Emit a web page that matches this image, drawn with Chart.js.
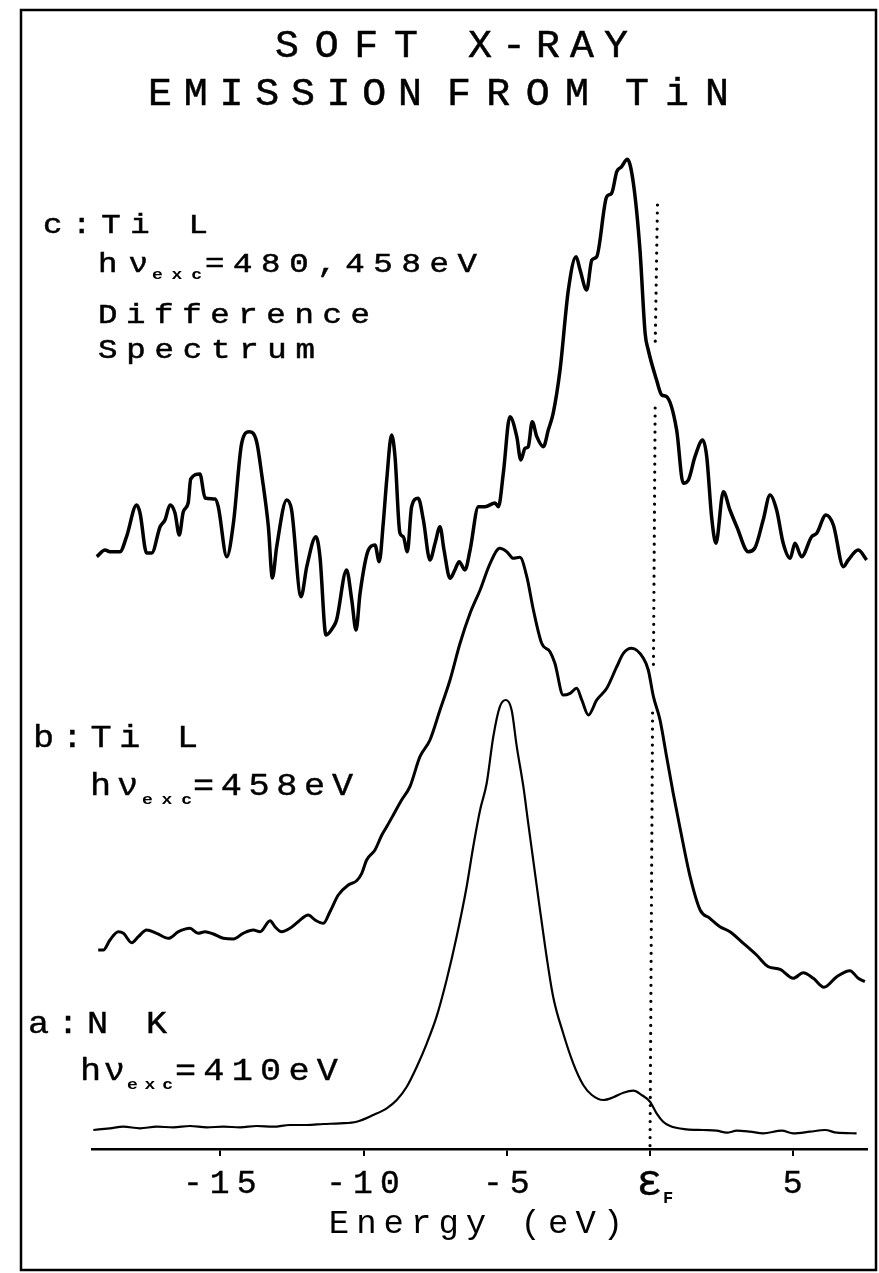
<!DOCTYPE html>
<html>
<head>
<meta charset="utf-8">
<title>Soft X-ray emission from TiN</title>
<script src="https://cdn.jsdelivr.net/npm/chart.js@4.4.0/dist/chart.umd.min.js"></script>
<style>
  html, body { margin: 0; padding: 0; background: #fff; }
  canvas { display: block; }
</style>
</head>
<body>
<canvas id="spectra" width="879" height="1273"></canvas>
<script>
// energies in eV relative to the Fermi level, intensities in arbitrary units (curves offset)

// a: N K, hv_exc = 410 eV
const nkEnergy = [-19.43, -18.85, -18.38, -17.80, -17.22, -16.64, -16.06, -15.47, -14.89, -14.31,
  -13.73, -13.15, -12.57, -11.98, -11.40, -10.82, -10.24, -9.66, -9.19, -8.84, -8.49, -8.14,
  -7.79, -7.45, -7.10, -6.75, -6.40, -6.17, -5.93, -5.70, -5.47, -5.24, -5.03, -4.83, -4.65,
  -4.42, -4.25, -3.95, -3.66, -3.38, -3.03, -2.68, -2.33, -2.03, -1.63, -1.28, -0.93, -0.58,
  -0.29, 0.00, 0.23, 0.46, 0.70, 1.28, 1.86, 2.33, 2.68, 3.03, 3.49, 3.95, 4.60, 5.00, 5.58,
  6.11, 6.52, 7.21];
const nkIntensity = [1.9, 2.07, 2.23, 2.07, 2.23, 2.17, 2.3, 2.17, 2.23, 2.17,
  2.3, 2.23, 2.4, 2.4, 2.5, 2.57, 2.73, 3.4, 4.07, 4.9, 6.23, 8.23,
  10.57, 13.23, 16.9, 21.23, 26.23, 30.23, 33.9, 36.57, 41.23, 44.23, 44.9, 43.9, 40.23,
  36.23, 32.57, 26.23, 20.23, 15.23, 11.57, 8.57, 6.4, 5.4, 4.9, 5.17, 5.63, 5.83,
  5.4, 4.73, 3.57, 2.73, 2.3, 1.97, 1.9, 1.83, 1.63, 1.83, 1.73, 1.57, 1.83, 1.57, 1.73,
  1.9, 1.63, 1.57];

// b: Ti L, hv_exc = 458 eV
const tiLEnergy = [-19.26, -19.08, -18.85, -18.56, -18.38, -18.09, -17.86, -17.57, -17.22, -16.81,
  -16.46, -16.06, -15.77, -15.53, -15.24, -14.89, -14.54, -14.20, -13.85, -13.61, -13.26, -13.09,
  -12.86, -12.57, -12.28, -11.93, -11.69, -11.40, -11.17, -10.88, -10.53, -10.24, -10.06, -9.89,
  -9.60, -9.36, -9.19, -8.96, -8.67, -8.38, -8.03, -7.68, -7.33, -6.98, -6.63, -6.28, -5.93,
  -5.58, -5.24, -5.00, -4.77, -4.54, -4.30, -4.07, -3.78, -3.49, -3.32, -3.03, -2.79, -2.56,
  -2.38, -2.15, -1.86, -1.51, -1.16, -0.93, -0.64, -0.23, -0.06, 0.12, 0.35, 0.58, 0.81, 1.05,
  1.40, 1.75, 2.09, 2.44, 2.79, 3.26, 3.72, 4.13, 4.54, 5.00, 5.35, 5.70, 6.07, 6.52, 6.98,
  7.27, 7.50];
const tiLIntensity = [19.9, 19.9, 20.9, 21.73, 21.57, 20.63, 21.23, 21.9, 21.57, 21.07,
  21.73, 22.07, 21.57, 21.73, 21.5, 21.07, 21.0, 21.57, 21.9, 21.73, 22.83, 22.23,
  21.73, 22.07, 22.73, 23.4, 22.9, 22.57, 23.73, 25.4, 26.4, 26.83, 27.57, 28.9,
  29.9, 31.4, 32.23, 33.4, 34.9, 36.23, 39.23, 40.9, 43.9, 46.9, 50.57, 53.57, 55.9,
  58.57, 60.07, 59.73, 59.07, 59.17, 57.23, 53.9, 50.57, 49.73, 48.57, 45.4, 45.57, 46.07,
  44.9, 43.4, 44.9, 46.07, 48.23, 49.57, 50.07, 49.07, 47.9, 45.23, 42.9, 39.23, 35.57, 32.07,
  27.23, 23.9, 23.07, 22.23, 21.73, 20.57, 19.4, 18.23, 17.97, 17.07, 17.63, 17.07, 16.17, 17.23, 17.83,
  17.07, 16.73];

// c: Ti L, hv_exc = 480, 458 eV difference spectrum
const diffEnergy = [-19.31, -19.02, -18.85, -18.50, -18.27, -17.92, -17.80, -17.57, -17.39, -17.10,
  -16.93, -16.75, -16.58, -16.43, -16.29, -16.12, -16.03, -15.71, -15.53, -15.18, -15.07, -14.77,
  -14.54, -14.25, -13.99, -13.73, -13.55, -13.32, -13.18, -13.03, -12.68, -12.51, -12.18, -11.98,
  -11.66, -11.52, -11.31, -11.05, -10.94, -10.59, -10.41, -10.26, -10.12, -9.83, -9.60, -9.45,
  -9.31, -9.19, -9.02, -8.90, -8.73, -8.61, -8.47, -8.32, -8.09, -7.91, -7.68, -7.50, -7.33,
  -7.19, -6.98, -6.81, -6.66, -6.46, -6.28, -5.99, -5.76, -5.41, -5.29, -5.12, -4.89, -4.65,
  -4.51, -4.36, -4.25, -4.11, -3.95, -3.72, -3.55, -3.38, -3.14, -2.85, -2.58, -2.44, -2.21,
  -2.03, -1.86, -1.51, -1.34, -1.16, -0.99, -0.79, -0.58, -0.35, -0.17, -0.06, 0.23, 0.41, 0.58,
  0.93, 1.16, 1.34, 1.57, 1.84, 1.98, 2.15, 2.30, 2.56, 2.79, 3.03, 3.43, 3.66, 3.95, 4.19,
  4.42, 4.65, 4.89, 5.06, 5.29, 5.64, 5.82, 6.14, 6.40, 6.75, 6.92, 7.27, 7.56];
const diffIntensity = [59.23, 59.9, 59.73, 59.73, 61.23, 64.4, 63.6, 59.6, 59.6, 62.23,
  62.9, 64.4, 63.6, 61.4, 63.73, 64.6, 67.0, 67.5, 65.1, 65.0, 64.23, 59.23,
  62.6, 70.6, 71.73, 70.73, 67.4, 62.23, 57.1, 60.23, 64.9, 63.9, 55.23, 58.23,
  61.23, 59.23, 51.4, 52.23, 52.9, 57.9, 54.9, 51.9, 55.57, 59.9, 60.4, 58.73,
  62.6, 66.9, 71.4, 69.23, 61.6, 61.23, 59.73, 64.23, 65.07, 62.9, 58.9, 60.6, 62.23,
  59.9, 57.07, 57.9, 58.73, 57.9, 59.9, 64.23, 64.23, 64.6, 64.23, 67.57, 73.23, 71.23,
  68.9, 70.07, 70.23, 72.73, 71.23, 70.23, 71.9, 73.57, 77.9, 85.9, 89.23, 87.9, 85.9,
  88.9, 89.23, 95.23, 95.57, 97.73, 98.23, 98.97, 96.57, 89.9, 81.57, 79.9, 76.9, 75.4, 75.23,
  71.9, 66.57, 66.9, 69.23, 70.9, 69.23, 63.23, 60.57, 65.73, 63.9, 62.23, 59.73, 60.1, 62.9, 65.4,
  63.9, 60.57, 59.07, 60.57, 59.23, 61.23, 61.57, 63.4, 62.4, 58.23, 58.9, 59.9, 58.9];

// dotted Fermi level marker (null = gap where it passes behind a curve)
const fermiEnergy = [0.26, 0.18, 0.18, 0.18, 0.12, 0.11, 0.09, 0.0];
const fermiLevel = [94.4, 80.1, null, 74.1, 48.4, null, 43.6, 0.0];

const tickValues = [-15, -10, -5, 0, 5];

const FONT = "'Liberation Mono', 'Courier New', monospace";

function points(xs, ys) {
    return xs.map((x, i) => ({ x: x, y: ys[i] }));
}

// draws text spanning x1..x2, glyphs widened by sx and a bit heavier (old typewriter look)
function fitText(ctx, text, x1, x2, y, sx, weight) {
    sx = sx || 1;
    ctx.save();
    ctx.translate(x1, y);
    ctx.scale(sx, 1);
    ctx.letterSpacing = '0px';
    const w = ctx.measureText(text).width;
    const n = Array.from(text).length;
    const sp = n > 1 ? ((x2 - x1) / sx - w) / (n - 1) : 0;
    ctx.letterSpacing = sp.toFixed(2) + 'px';
    ctx.textAlign = 'left';
    ctx.textBaseline = 'alphabetic';
    ctx.fillText(text, 0, 0);
    if (weight) {
        ctx.lineWidth = weight;
        ctx.strokeText(text, 0, 0);
    }
    ctx.restore();
}

function excLabel(ctx, font, sx, wt, hv, sub, rest) {
    ctx.font = font;
    fitText(ctx, 'hν', hv[0], hv[1], hv[2], sx, wt);
    ctx.font = 'bold 15px ' + FONT;
    fitText(ctx, 'exc', sub[0], sub[1], sub[2], 1.2, 0);
    ctx.font = font;
    fitText(ctx, rest[0], rest[1], rest[2], rest[3], sx, wt);
}

const paper = {
    id: 'paper',
    beforeDraw(chart) {
        const c = chart.ctx;
        c.save();
        c.fillStyle = '#fff';
        c.fillRect(0, 0, chart.width, chart.height);
        c.strokeStyle = '#000';
        c.lineWidth = 2.5;
        c.strokeRect(21, 10, 855, 1260);
        c.restore();
        c.letterSpacing = '7px'; // spacing for the axis texts
    },
    afterDraw(chart) {
        const c = chart.ctx;
        c.save();
        c.fillStyle = '#000';
        c.strokeStyle = '#000';

        // title, word by word
        c.font = '38px ' + FONT;
        fitText(c, 'SOFT', 275, 418, 57, 1.05, 0.5);
        fitText(c, 'X-RAY', 468, 628, 57, 1.05, 0.5);
        fitText(c, 'EMISSION', 148, 422, 105, 1.05, 0.5);
        fitText(c, 'FROM', 447, 589, 105, 1.05, 0.5);
        fitText(c, 'TiN', 625, 729, 105, 1.05, 0.5);

        // c label
        const cFont = '27px ' + FONT;
        const cw = 0.5;
        c.font = cFont;
        fitText(c, 'c:Ti L', 43, 208, 233, 1.2, cw);
        excLabel(c, cFont, 1.2, cw, [98, 148, 272], [152, 202, 279], ['=480,458eV', 205, 477, 272]);
        c.font = cFont;
        fitText(c, 'Difference', 98, 370, 323, 1.2, cw);
        fitText(c, 'Spectrum', 98, 315, 358, 1.2, cw);

        // b label
        const bFont = '32px ' + FONT;
        const bw = 0.4;
        c.font = bFont;
        fitText(c, 'b:Ti L', 33, 198, 747, 1.1, bw);
        excLabel(c, bFont, 1.1, bw, [90, 138, 795], [142, 192, 804], ['=458eV', 193, 353, 795]);

        // a label
        c.font = bFont;
        fitText(c, 'a:N K', 28, 167, 1033, 1.1, bw);
        excLabel(c, bFont, 1.1, bw, [80, 125, 1080], [127, 173, 1089], ['=410eV', 175, 338, 1080]);

        // subscript F of the Fermi level tick
        const x0 = chart.scales.x.getPixelForValue(0);
        c.font = 'bold 17px ' + FONT;
        c.textAlign = 'left';
        c.letterSpacing = '0px';
        c.fillText('F', x0 + 13, 1203);
        c.restore();
    }
};

const tickFont = { family: FONT, size: 33, lineHeight: 1.2 };
const epsFont = { family: FONT, size: 44, lineHeight: 33 * 1.2 / 44 };

new Chart(document.getElementById('spectra'), {
    type: 'line',
    data: {
        datasets: [
            {
                label: 'a: N K',
                data: points(nkEnergy, nkIntensity),
                borderColor: '#000',
                borderWidth: 2.2
            },
            {
                label: 'b: Ti L',
                data: points(tiLEnergy, tiLIntensity),
                borderColor: '#000',
                borderWidth: 3
            },
            {
                label: 'c: Ti L difference',
                data: points(diffEnergy, diffIntensity),
                borderColor: '#000',
                borderWidth: 3.5
            },
            {
                label: 'Fermi level',
                data: points(fermiEnergy, fermiLevel),
                borderColor: '#000',
                borderWidth: 3.2,
                borderDash: [0.01, 8],
                borderCapStyle: 'round',
                cubicInterpolationMode: 'default',
                tension: 0
            }
        ]
    },
    options: {
        responsive: false,
        animation: false,
        layout: { padding: { top: 149, left: 92, right: 12, bottom: 0 } },
        elements: {
            point: { radius: 0 },
            line: { cubicInterpolationMode: 'monotone', borderJoinStyle: 'round' }
        },
        datasets: { line: { clip: false } },
        plugins: {
            legend: { display: false },
            tooltip: { enabled: false }
        },
        scales: {
            x: {
                type: 'linear',
                min: (92 - 650) / 28.65,
                max: (867 - 650) / 28.65,
                afterFit: (scale) => { scale.height = 124; },
                afterBuildTicks: (scale) => { scale.ticks = tickValues.map(v => ({ value: v })); },
                border: { display: true, color: '#000', width: 2.5 },
                grid: { display: true, drawOnChartArea: false, drawTicks: true, tickLength: 7, color: '#000', lineWidth: 2 },
                ticks: {
                    color: '#000',
                    padding: 8,
                    labelOffset: 3,
                    maxRotation: 0,
                    textStrokeColor: '#000',
                    textStrokeWidth: 0.4,
                    font: (ctx) => (ctx.tick && ctx.tick.value === 0) ? epsFont : tickFont,
                    callback: (v) => v === 0 ? 'ε' : String(v)
                },
                title: {
                    display: true,
                    text: 'Energy (eV)',
                    color: '#000',
                    font: { family: FONT, size: 34, lineHeight: 1.2 },
                    padding: { top: 0, bottom: 29 }
                }
            },
            y: { display: false, min: 0, max: 100 }
        }
    },
    plugins: [paper]
});
</script>
</body>
</html>
